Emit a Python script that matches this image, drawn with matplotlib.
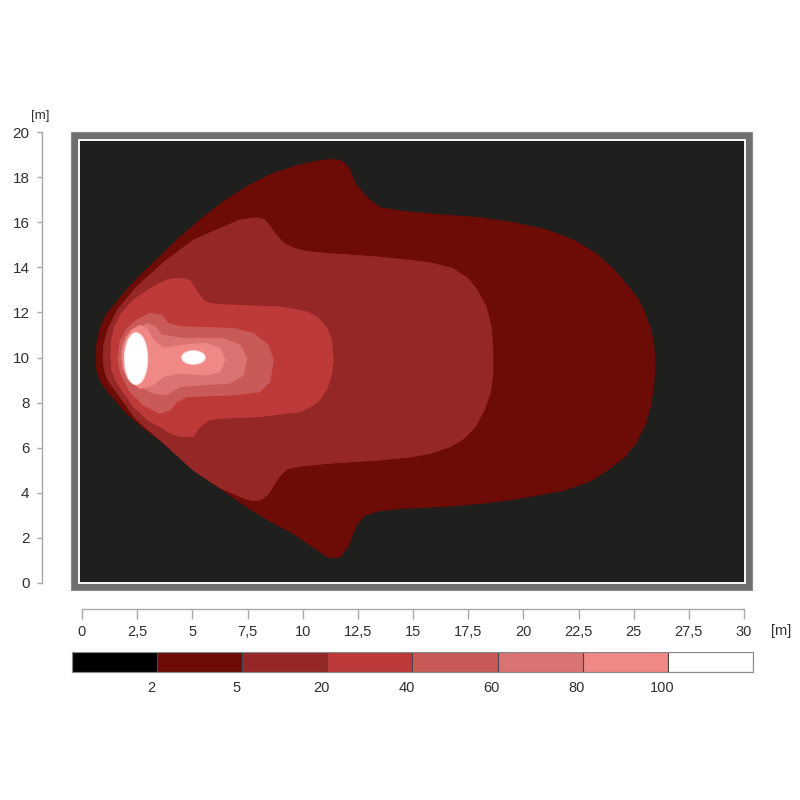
import matplotlib
matplotlib.use("Agg")
import matplotlib.pyplot as plt
from matplotlib.patches import Rectangle, Ellipse

plt.rcParams["font.family"] = ["Liberation Sans", "DejaVu Sans"]

# isolux outlines (metres)
level_2_x = [0.63, 0.68, 0.85, 1.2, 2.02, 2.75, 3.53, 4.4, 5.35, 6.4, 7.46, 8.5, 9.57, 10.6,
             11.2, 11.7, 12.1, 12.4, 12.8, 13.5, 14.5, 16.5, 18.0, 19.5, 21.8, 23.0, 23.8,
             24.6, 25.1, 25.55, 25.8, 25.93, 25.96, 25.9, 25.75, 25.5, 25.2, 24.8, 24.1,
             23.3, 22.3, 21.1, 19.6, 18.0, 16.0, 14.4, 13.5, 12.9, 12.4, 12.1, 11.8, 11.3,
             10.6, 9.57, 8.5, 7.46, 6.4, 5.35, 4.4, 3.53, 2.75, 2.02, 1.1, 0.82, 0.68]
level_2_y = [10.0, 9.4, 8.9, 8.45, 7.52, 6.9, 6.34, 5.65, 4.87, 4.1, 3.38, 2.75, 2.2, 1.5,
             1.12, 1.15, 1.7, 2.5, 3.0, 3.2, 3.3, 3.4, 3.52, 3.7, 4.1, 4.5, 5.0,
             5.6, 6.2, 7.1, 8.0, 9.0, 9.9, 10.7, 11.3, 12.0, 12.6, 13.1, 13.9,
             14.6, 15.2, 15.65, 15.98, 16.2, 16.35, 16.5, 16.65, 17.1, 17.7, 18.4, 18.7, 18.8,
             18.7, 18.46, 18.1, 17.57, 16.9, 16.1, 15.3, 14.47, 13.75, 13.0, 11.9, 11.3, 10.65]

level_5_x = [0.95, 1.02, 1.2, 1.5, 2.48, 3.7, 5.04, 6.2, 7.16, 7.7, 8.1, 8.45, 8.7, 8.97,
             9.3, 9.9, 11.09, 13.5, 15.0, 15.8, 16.7, 17.3, 17.8, 18.2, 18.5, 18.62, 18.62,
             18.55, 18.3, 17.9, 17.5, 16.8, 15.8, 14.5, 13.5, 11.09, 10.2, 9.6, 9.1, 8.75,
             8.5, 8.25, 7.9, 7.16, 6.2, 5.04, 3.8, 2.48, 1.6, 1.2, 1.0]
level_5_y = [10.0, 9.4, 8.95, 8.55, 7.23, 6.2, 5.0, 4.25, 3.83, 3.65, 3.68, 3.95, 4.35, 4.75,
             5.05, 5.18, 5.3, 5.45, 5.6, 5.75, 6.05, 6.4, 6.9, 7.6, 8.4, 9.2, 10.4,
             11.35, 12.3, 13.0, 13.5, 13.95, 14.2, 14.35, 14.45, 14.62, 14.7, 14.85, 15.1, 15.5,
             15.85, 16.12, 16.2, 16.1, 15.7, 15.2, 14.3, 13.14, 12.1, 11.3, 10.65]

level_20_x = [1.3, 1.36, 1.6, 2.32, 3.0, 3.53, 4.0, 4.44, 5.04, 5.35, 5.8, 6.6, 8.07, 9.88,
              10.4, 10.78, 11.1, 11.3, 11.39, 11.31, 11.1, 10.7, 10.18, 9.4, 8.82, 6.56,
              5.8, 5.5, 5.2, 4.9, 4.59, 4.2, 3.84, 3.23, 2.32, 1.75, 1.48, 1.34]
level_20_y = [10.0, 9.4, 8.86, 7.82, 7.2, 6.94, 6.65, 6.49, 6.49, 6.94, 7.25, 7.32, 7.38, 7.6,
              7.85, 8.12, 8.6, 9.2, 9.89, 10.78, 11.3, 11.75, 12.03, 12.18, 12.25, 12.33,
              12.4, 12.55, 12.95, 13.4, 13.51, 13.5, 13.44, 13.14, 12.55, 11.9, 11.37, 10.8]

level_40_x = [2.48, 3.08, 3.61, 3.91, 4.44, 6.86, 7.76, 8.44, 8.67, 8.52, 8.07, 6.86, 4.74,
              4.29, 3.99, 3.53, 2.78, 2.17, 1.75, 1.62, 1.72, 2.05]
level_40_y = [11.66, 11.96, 11.88, 11.52, 11.37, 11.29, 11.07, 10.55, 9.89, 8.93, 8.48, 8.34,
              8.26, 8.04, 7.67, 7.52, 7.89, 8.48, 9.3, 9.95, 10.7, 11.3]

level_60_x = [2.48, 2.93, 3.31, 3.61, 4.59, 6.4, 7.16, 7.46, 7.31, 6.71, 5.35, 4.44, 3.84,
              3.23, 2.48, 2.0, 1.76, 1.85, 2.1]
level_60_y = [11.15, 11.52, 11.37, 11.0, 10.85, 10.85, 10.55, 9.96, 9.22, 8.86, 8.78, 8.71,
              8.34, 8.41, 8.78, 9.3, 9.95, 10.6, 10.95]

level_80_x = [2.25, 2.63, 2.93, 3.23, 3.68, 4.59, 5.65, 6.25, 6.48, 6.25, 5.65, 4.44, 3.68,
              3.23, 2.63, 2.1, 1.86, 1.84, 1.98]
level_80_y = [11.22, 11.44, 11.29, 10.78, 10.41, 10.55, 10.63, 10.41, 9.89, 9.37, 9.22, 9.3,
              9.15, 8.78, 8.63, 9.0, 9.5, 10.3, 10.85]

# the two spots above 100 lx
spot_x = [2.45, 5.05]
spot_y = [9.95, 10.0]
spot_w = [1.05, 1.06]
spot_h = [2.3, 0.6]

outlines = [
    (level_2_x, level_2_y),
    (level_5_x, level_5_y),
    (level_20_x, level_20_y),
    (level_40_x, level_40_y),
    (level_60_x, level_60_y),
    (level_80_x, level_80_y),
]

band_labels = ["2", "5", "20", "40", "60", "80", "100"]
band_colors = ["#000000", "#6d0b07", "#952827", "#bd3a38", "#c95a57",
               "#da7371", "#f08886", "#ffffff"]

x_ticks = [0, 2.5, 5, 7.5, 10, 12.5, 15, 17.5, 20, 22.5, 25, 27.5, 30]
x_tick_labels = ["0", "2,5", "5", "7,5", "10", "12,5", "15", "17,5", "20",
                 "22,5", "25", "27,5", "30"]
y_ticks = [0, 2, 4, 6, 8, 10, 12, 14, 16, 18, 20]

W = 800
fig = plt.figure(figsize=(8, 8), dpi=100, facecolor="white")
ax = fig.add_axes([82 / W, 217 / W, 662 / W, 451 / W])
ax.set_xlim(0, 30)
ax.set_ylim(0, 20)
ax.set_facecolor("none")

# frame: grey border, thin white line, dark field
ax.add_patch(Rectangle((-0.51, -0.31), 30.87, 20.31, facecolor="#6f6f6f",
                       edgecolor="#8a8a8a", lw=0.8, clip_on=False, zorder=0))
ax.add_patch(Rectangle((-0.16, -0.03), 30.23, 19.7, facecolor="#f4f4f4",
                       edgecolor="none", clip_on=False, zorder=0.5))
field = Rectangle((-0.09, 0.04), 30.09, 19.56, facecolor="#1f1f1e",
                  edgecolor="none", clip_on=False, zorder=1)
ax.add_patch(field)

for (xs, ys), color in zip(outlines, band_colors[1:]):
    patch = ax.fill(xs, ys, facecolor=color, edgecolor=color, lw=0.6,
                    joinstyle="round", zorder=2)[0]
    patch.set_clip_path(field)

for cx, cy, w, h in zip(spot_x, spot_y, spot_w, spot_h):
    ax.add_patch(Ellipse((cx, cy), w, h, facecolor=band_colors[-1],
                         edgecolor="#fbe4e3", lw=0.8, zorder=3))

# rulers
for side in ["top", "right"]:
    ax.spines[side].set_visible(False)
ax.spines["left"].set_position(("outward", 40 * 0.72))
ax.spines["left"].set_bounds(0, 20)
ax.spines["bottom"].set_position(("outward", 25.7 * 0.72))
ax.spines["bottom"].set_bounds(0, 30)
for side in ["left", "bottom"]:
    ax.spines[side].set_color("#a8a8a8")
    ax.spines[side].set_linewidth(1.0)

ax.set_xticks(x_ticks, x_tick_labels)
ax.set_yticks(y_ticks)
ax.tick_params(axis="y", length=3.5, width=1, color="#a8a8a8", pad=5.5,
               labelsize=11, labelcolor="#303030")
ax.tick_params(axis="x", length=7.5, width=1, color="#a8a8a8", pad=4.5,
               labelsize=10.5, labelcolor="#303030")

fig.text(40 / W, 1 - 116 / W, "[m]", ha="center", va="center",
         fontsize=9.5, color="#303030")
fig.text(781 / W, 1 - 631 / W, "[m]", ha="center", va="center",
         fontsize=10.5, color="#303030")

# legend bar
cax = fig.add_axes([72 / W, 128 / W, 681 / W, 20 / W])
cax.bar(range(len(band_colors)), [1] * len(band_colors), width=1, align="edge",
        color=band_colors, edgecolor="#4a4a4a", linewidth=0.8)
cax.set_xlim(0, len(band_colors))
cax.set_ylim(0, 1)
cax.set_xticks([])
cax.set_yticks([])
for spine in cax.spines.values():
    spine.set_color("#8a8a8a")
for i, label in enumerate(band_labels):
    cax.text(i + 1 - 0.07, -0.45, label, ha="center", va="top",
             fontsize=10.5, color="#303030", clip_on=False)

fig.savefig("out.png", dpi=100, facecolor="white")
